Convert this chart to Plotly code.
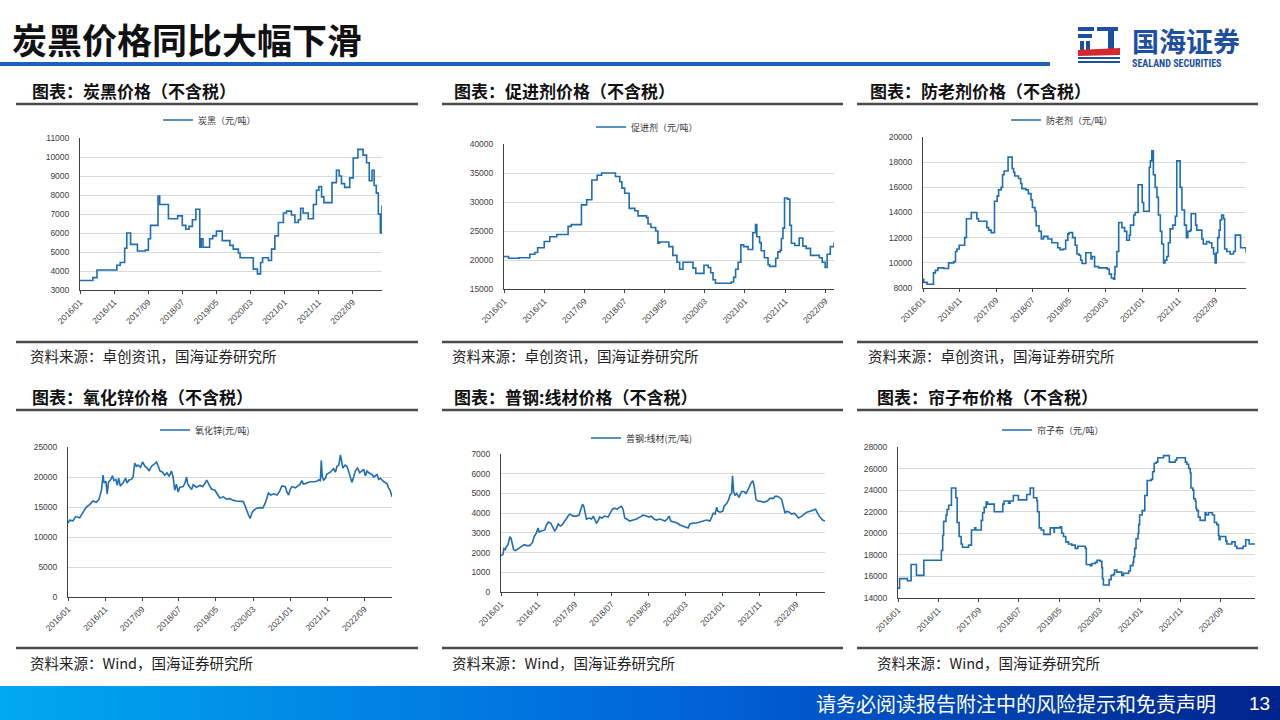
import plotly.graph_objects as go

# ---------------- data ----------------
cb_dates = ["2016-01-01","2016-04-25","2016-06-01","2016-11-25","2016-12-25","2017-02-03","2017-02-22","2017-03-28",
            "2017-05-28","2017-08-07","2017-09-03","2017-09-22","2017-11-28","2017-12-13","2018-03-01","2018-05-22",
            "2018-07-03","2018-08-03","2018-09-01","2018-10-01","2018-11-01","2018-12-06","2018-12-19","2019-01-04",
            "2019-03-04","2019-04-01","2019-05-04","2019-06-25","2019-09-01","2019-10-01","2019-11-16","2019-12-01",
            "2020-03-28","2020-05-04","2020-06-01","2020-06-19","2020-08-10","2020-09-07","2020-10-07","2020-11-07",
            "2020-12-22","2021-01-19","2021-03-04","2021-04-04","2021-05-04","2021-05-25","2021-06-16","2021-08-01",
            "2021-09-16","2021-10-13","2021-11-04","2021-11-28","2021-12-19","2022-03-01","2022-04-10","2022-05-04",
            "2022-05-25","2022-06-22","2022-08-07","2022-09-07","2022-10-19","2022-12-04","2023-01-04","2023-01-28",
            "2023-02-22","2023-03-13","2023-04-01","2023-04-19","2023-05-07","2023-05-22"]
cb_values = [3500,3650,4050,4300,4450,5200,6000,5400,
             5050,5100,5700,6400,7950,7500,6750,6900,
             6400,6200,6350,6700,7250,5250,5700,5250,
             5700,5850,6100,5600,5350,5150,4950,4700,
             4100,3850,4450,4700,4550,5150,5850,6550,
             7050,7150,6950,6550,6700,7300,7050,6750,
             7500,8250,8450,7900,7600,8650,9300,9000,
             8600,8400,8900,9950,10400,10100,9700,8750,
             9300,8500,8100,7000,6000,7450]

acc_dates = ["2016-01-01","2016-02-04","2016-04-25","2016-07-15","2016-08-22","2016-09-12","2016-11-01","2016-12-13",
             "2017-02-04","2017-05-01","2017-05-25","2017-08-10","2017-09-19","2017-10-28","2017-12-07","2018-01-10",
             "2018-04-25","2018-05-28","2018-06-13","2018-07-04","2018-08-07","2018-09-19","2018-10-13","2018-12-16",
             "2018-12-28","2019-01-19","2019-02-24","2019-03-13","2019-03-25","2019-06-04","2019-07-04","2019-08-04",
             "2019-08-25","2019-09-19","2019-12-04","2019-12-25","2020-02-25","2020-03-28","2020-04-16","2020-05-04",
             "2020-05-22","2020-09-19","2020-10-07","2020-10-22","2020-11-10","2020-12-01","2020-12-22","2021-01-25",
             "2021-03-01","2021-03-22","2021-04-01","2021-04-22","2021-05-04","2021-05-28","2021-06-25","2021-07-07",
             "2021-08-22","2021-09-07","2021-09-25","2021-10-04","2021-10-16","2021-10-28","2021-11-19","2021-12-07",
             "2021-12-19","2022-01-13","2022-02-16","2022-03-16","2022-04-10","2022-05-13","2022-07-19","2022-08-10",
             "2022-09-01","2022-09-16","2022-10-10","2022-11-07"]
acc_values = [20600,20300,20400,21000,21300,22100,23200,24000,
              24400,25800,26100,29500,30400,33800,34600,35000,
              34400,33500,32400,31500,28900,28500,27600,27300,
              26200,25600,25000,22900,23100,22300,20800,19600,
              18400,19600,18600,17700,19100,18700,17800,16600,
              16000,16200,17000,18400,19600,22600,22300,21800,
              24700,26100,24000,23000,21600,20400,19200,18900,
              20300,21400,21700,23700,25500,30700,30500,26000,
              22900,22500,23800,22400,22000,20800,20400,19600,
              18700,21000,22300,23000]

aa_dates = ["2016-01-01","2016-01-07","2016-02-04","2016-03-28","2016-04-13","2016-05-04","2016-06-22","2016-08-01",
            "2016-09-13","2016-09-28","2016-10-10","2016-10-28","2016-12-13","2016-12-28","2017-02-07","2017-03-25",
            "2017-04-07","2017-06-16","2017-07-01","2017-07-22","2017-08-19","2017-09-10","2017-09-22","2017-10-13",
            "2017-10-25","2017-11-07","2017-12-10","2018-01-13","2018-01-25","2018-02-04","2018-03-07","2018-03-25",
            "2018-04-04","2018-05-07","2018-05-28","2018-06-19","2018-07-01","2018-07-22","2018-08-01","2018-08-25",
            "2018-09-13","2018-10-01","2018-11-07","2018-12-10","2019-01-28","2019-02-16","2019-03-16","2019-04-04",
            "2019-04-22","2019-05-04","2019-06-01","2019-06-22","2019-07-07","2019-07-25","2019-08-07","2019-08-19",
            "2019-09-19","2019-11-01","2019-11-10","2019-12-01","2020-01-04","2020-03-16","2020-04-01","2020-04-19",
            "2020-05-07","2020-05-16","2020-05-19","2020-06-04","2020-06-19","2020-07-16","2020-08-07","2020-08-25",
            "2020-09-16","2020-09-25","2020-10-22","2020-11-04","2020-11-28","2021-01-01","2021-01-13","2021-03-01",
            "2021-03-10","2021-03-22","2021-04-04","2021-04-19","2021-05-04","2021-05-16","2021-06-01","2021-06-13",
            "2021-06-28","2021-07-10","2021-07-25","2021-08-07","2021-08-22","2021-09-13","2021-10-04","2021-10-16",
            "2021-11-13","2021-11-28","2021-12-19","2022-01-04","2022-01-16","2022-02-07","2022-02-13","2022-03-22",
            "2022-04-01","2022-05-13","2022-05-25","2022-06-22","2022-07-13","2022-08-04","2022-08-19","2022-09-01",
            "2022-09-10","2022-09-22","2022-10-04","2022-10-13","2022-10-25","2022-11-10","2022-11-19","2022-12-07",
            "2023-01-04","2023-02-01","2023-02-16","2023-04-01","2023-05-07","2023-05-16"]
aa_values = [8700,8450,8300,9200,9400,9600,9550,10000,
             10100,10900,11100,11400,12000,13500,14000,13500,
             13300,12800,12600,12400,14900,15300,15800,16000,
             17000,17300,18400,17500,17200,16900,16700,16300,
             15900,15800,15500,15000,14400,14100,12950,12500,
             11900,12100,11900,11600,11200,11050,11100,11800,
             12300,12400,12000,11400,10700,10600,10200,9950,
             10800,10300,10500,9700,9600,9500,9100,8800,
             8700,9100,9700,10900,13200,12800,12500,11800,
             12200,13000,13800,14000,16200,14800,14100,17600,
             18100,18900,17000,16000,15200,13800,12500,11500,
             10000,10200,10500,11600,12700,13000,13700,18100,
             16000,14200,13000,12000,12500,12600,13900,13000,
             12600,11900,11500,11700,11600,11200,10700,10000,
             10800,12000,12600,13400,13800,13500,11100,10900,
             10700,10900,12200,11200,11200,10800]

zno_dates = ["2016-01-01","2016-01-14","2016-02-11","2016-03-03","2016-04-06","2016-04-19","2016-05-16","2016-05-30",
             "2016-06-27","2016-07-24","2016-08-21","2016-09-12","2016-10-02","2016-10-15","2016-10-23","2016-11-07",
             "2016-11-18","2016-11-29","2016-12-15","2017-01-01","2017-01-12","2017-01-28","2017-02-09","2017-02-20",
             "2017-03-06","2017-03-28","2017-04-19","2017-04-30","2017-05-17","2017-06-05","2017-06-19","2017-07-02",
             "2017-07-16","2017-07-29","2017-08-18","2017-09-05","2017-09-24","2017-10-13","2017-10-29","2017-11-18",
             "2017-12-01","2017-12-15","2017-12-29","2018-01-12","2018-01-26","2018-02-16","2018-03-06","2018-03-25",
             "2018-04-11","2018-04-30","2018-05-14","2018-05-27","2018-06-10","2018-06-24","2018-07-08","2018-08-05",
             "2018-08-19","2018-09-02","2018-09-10","2018-09-29","2018-10-13","2018-10-26","2018-11-23","2018-12-20",
             "2019-01-12","2019-02-01","2019-02-14","2019-03-06","2019-03-25","2019-04-22","2019-05-11","2019-06-02",
             "2019-06-30","2019-07-27","2019-08-24","2019-09-21","2019-10-18","2019-11-15","2019-12-12","2019-12-26",
             "2020-01-09","2020-01-23","2020-02-06","2020-02-20","2020-03-04","2020-03-31","2020-04-28","2020-05-20",
             "2020-06-08","2020-06-22","2020-07-05","2020-07-24","2020-08-16","2020-09-13","2020-10-05","2020-10-24",
             "2020-11-21","2020-12-04","2020-12-18","2021-01-01","2021-01-15","2021-02-12","2021-02-26","2021-03-23",
             "2021-04-06","2021-04-20","2021-05-17","2021-06-14","2021-07-11","2021-08-08","2021-08-22","2021-09-05",
             "2021-09-13","2021-09-21","2021-10-02","2021-10-16","2021-10-29","2021-11-26","2021-12-23","2022-01-07",
             "2022-01-20","2022-02-04","2022-02-17","2022-02-25","2022-03-09","2022-03-28","2022-04-11","2022-04-25",
             "2022-05-09","2022-05-22","2022-06-06","2022-06-19","2022-07-08","2022-07-25","2022-08-13","2022-08-27",
             "2022-09-10","2022-09-24","2022-10-08","2022-11-05","2022-11-18","2022-12-15","2022-12-29","2023-01-12",
             "2023-02-09","2023-03-07","2023-03-20","2023-04-03","2023-04-17"]
zno_values = [12300,12800,12700,13400,13200,13600,14500,15000,
              15400,16000,15800,16300,17800,20300,19000,19300,
              17200,19200,19500,20200,19400,19600,18600,19800,
              18500,19000,19800,19000,19500,19600,20000,22300,
              21800,22000,21600,22500,21800,21500,21000,21800,
              22000,22300,22500,21800,21000,20800,20300,20700,
              20100,21000,20000,17800,18800,17500,18300,18400,
              19000,20000,18900,18300,17900,18700,18300,18600,
              18400,19000,19500,18700,18000,17800,17200,16500,
              16700,16300,16400,16100,16000,15900,15900,15200,
              14300,13700,13100,14000,14400,14800,14900,14800,
              15600,16600,17300,17000,17200,17000,17600,18500,
              18400,17500,17000,18000,18400,18200,18400,18800,
              19400,18800,19000,19200,19200,19300,19500,19400,
              22800,20000,19500,19800,20500,20800,21400,20800,
              21800,22000,23700,22800,21500,22000,21800,21000,
              20000,19100,20000,21000,21500,20700,21000,21300,
              20200,21000,20700,20400,20000,20400,19600,19800,
              19200,18900,18200,17700,16700]

steel_dates = ["2016-01-01","2016-01-17","2016-01-25","2016-02-06","2016-02-14","2016-02-28","2016-03-06","2016-03-14",
               "2016-03-25","2016-04-03","2016-04-14","2016-04-30","2016-05-19","2016-06-16","2016-07-14","2016-08-02",
               "2016-08-24","2016-09-16","2016-09-30","2016-10-19","2016-11-02","2016-11-10","2016-11-29","2016-12-27",
               "2017-01-10","2017-01-26","2017-02-14","2017-03-04","2017-03-18","2017-04-01","2017-04-17","2017-05-04",
               "2017-05-20","2017-06-09","2017-06-23","2017-07-12","2017-07-25","2017-08-17","2017-09-14","2017-10-06",
               "2017-10-19","2017-11-03","2017-11-14","2017-11-25","2017-12-06","2017-12-28","2018-01-17","2018-01-31",
               "2018-02-14","2018-02-26","2018-03-11","2018-03-25","2018-04-13","2018-05-05","2018-06-02","2018-06-21",
               "2018-07-08","2018-07-27","2018-08-16","2018-09-07","2018-09-21","2018-10-04","2018-10-18","2018-11-02",
               "2018-11-29","2018-12-26","2019-01-23","2019-02-19","2019-03-17","2019-04-14","2019-05-06","2019-05-25",
               "2019-06-17","2019-07-06","2019-08-03","2019-08-25","2019-09-14","2019-10-03","2019-10-19","2019-11-02",
               "2019-11-22","2019-12-24","2020-01-16","2020-02-13","2020-03-10","2020-03-24","2020-04-07","2020-05-05",
               "2020-06-02","2020-06-29","2020-07-26","2020-08-23","2020-09-20","2020-10-04","2020-10-18","2020-11-01",
               "2020-11-15","2020-11-23","2020-12-12","2021-01-04","2021-01-15","2021-02-06","2021-02-22","2021-03-03",
               "2021-03-17","2021-03-25","2021-04-03","2021-04-14","2021-04-28","2021-05-17","2021-06-08","2021-06-27",
               "2021-07-14","2021-08-02","2021-08-22","2021-09-08","2021-09-19","2021-10-05","2021-10-24","2021-11-13",
               "2021-12-05","2022-01-02","2022-01-29","2022-02-26","2022-03-10","2022-03-29","2022-04-15","2022-05-04",
               "2022-05-18","2022-06-01","2022-06-15","2022-07-06","2022-07-25","2022-08-14","2022-09-01","2022-09-20",
               "2022-10-17","2022-11-06","2022-11-28","2022-12-25","2023-01-16","2023-02-08","2023-02-24","2023-03-16",
               "2023-04-08","2023-04-27"]
steel_values = [1850,1900,2200,2150,2300,2400,2600,2800,
                2700,2400,2150,2100,2200,2300,2400,2350,
                2350,2500,2800,3000,3250,3050,3100,3150,
                3400,3550,3500,3300,3100,3200,3450,3350,
                3400,3600,3700,3900,3950,3850,3850,3900,
                4200,4450,4350,4000,3700,3750,3700,3850,
                3700,3500,3600,3800,3750,3850,3800,4000,
                4200,4250,4200,4300,4350,4200,3750,3700,
                3600,3650,3700,3800,3900,3850,3800,3850,
                3700,3650,3700,3650,3600,3700,3850,3600,
                3550,3500,3400,3350,3300,3250,3450,3500,
                3500,3550,3600,3650,3600,3800,4000,3950,
                4300,4100,4050,4100,4350,4500,4700,4900,
                5000,5900,5100,4900,5000,4800,5100,5100,
                5000,5200,5500,5650,5400,4700,4600,4600,
                4550,4600,4750,4750,4850,4850,4800,4700,
                4300,4000,4100,4050,3950,4000,3900,3750,
                3850,3950,4050,4100,4150,4200,4000,3800,
                3650,3600]

cord_dates = ["2016-01-01","2016-01-13","2016-03-12","2016-04-09","2016-05-19","2016-07-14","2016-11-23","2016-12-03",
              "2016-12-10","2016-12-28","2017-01-05","2017-01-17","2017-02-07","2017-03-12","2017-03-22","2017-04-06",
              "2017-04-21","2017-05-01","2017-06-16","2017-07-08","2017-08-01","2017-08-10","2017-09-20","2017-09-30",
              "2017-10-12","2017-10-27","2017-11-07","2017-12-27","2018-03-01","2018-03-11","2018-04-13","2018-04-25",
              "2018-05-20","2018-06-27","2018-08-29","2018-09-24","2018-10-19","2018-11-13","2018-11-18","2018-12-01",
              "2018-12-16","2019-01-04","2019-02-22","2019-03-23","2019-03-25","2019-05-07","2019-05-19","2019-06-02",
              "2019-06-19","2019-07-09","2019-08-04","2019-08-29","2019-09-18","2019-11-13","2019-11-21","2019-12-20",
              "2020-01-02","2020-01-28","2020-02-10","2020-03-04","2020-03-17","2020-03-22","2020-03-29","2020-05-11",
              "2020-05-26","2020-06-13","2020-06-21","2020-07-08","2020-08-15","2020-08-28","2020-10-05","2020-10-18",
              "2020-11-07","2020-11-12","2020-11-20","2020-11-30","2020-12-15","2020-12-20","2020-12-27","2021-01-15",
              "2021-02-04","2021-02-22","2021-03-24","2021-04-04","2021-04-16","2021-05-01","2021-05-13","2021-06-25",
              "2021-08-08","2021-09-22","2021-10-04","2021-12-07","2021-12-19","2022-01-01","2022-01-13","2022-01-18",
              "2022-02-01","2022-02-08","2022-02-20","2022-02-25","2022-03-03","2022-03-15","2022-03-28","2022-05-05",
              "2022-05-12","2022-05-30","2022-06-29","2022-07-14","2022-08-01","2022-08-14","2022-08-19","2022-08-26",
              "2022-10-08","2022-10-16","2022-11-23","2022-12-17","2022-12-30","2023-02-15","2023-03-07","2023-04-02",
              "2023-05-16"]
cord_values = [14900,15800,15600,17100,16100,17500,18400,19800,
               21100,21700,22200,22600,24200,23300,21000,19700,
               19000,18700,18900,20300,20500,20300,21200,21900,
               22400,22900,22700,22000,22700,23000,22800,23000,
               23500,23100,23600,24200,23300,23000,22000,20500,
               20300,19900,20500,20100,20500,20600,20000,19700,
               19200,19000,18900,18600,18800,18600,17100,17000,
               17200,17300,17500,17400,16800,15800,15200,15700,
               16100,16200,16600,16400,16100,16300,16500,17000,
               17300,17800,18600,19500,20000,20800,21700,22100,
               23500,24900,25000,25700,26500,26600,27000,27200,
               26600,26800,27000,26600,26400,26000,25600,24200,
               24000,23200,23000,22300,22100,21500,21200,21900,
               21700,21900,21700,21000,20800,19800,19400,19700,
               19300,19000,19200,18800,18600,18800,19400,19000,
               19000]

series_names = ["炭黑（元/吨）", "促进剂（元/吨）", "防老剂（元/吨）",
                "氧化锌(元/吨)", "普钢:线材(元/吨)", "帘子布（元/吨）"]
series_dates = [cb_dates, acc_dates, aa_dates, zno_dates, steel_dates, cord_dates]
series_values = [cb_values, acc_values, aa_values, zno_values, steel_values, cord_values]
series_shapes = ["hv", "hv", "hv", "linear", "linear", "hv"]
y_ranges = [(3000, 11000), (15000, 40000), (8000, 20000), (0, 25000), (0, 7000), (14000, 28000)]
y_dticks = [1000, 5000, 2000, 5000, 1000, 2000]
x_ends = ["2023-05-22", "2022-11-07", "2023-05-16", "2023-04-17", "2023-04-27", "2023-05-16"]

panel_titles = ["图表：炭黑价格（不含税）", "图表：促进剂价格（不含税）", "图表：防老剂价格（不含税）",
                "图表：氧化锌价格（不含税）", "图表：普钢:线材价格（不含税）", "图表：帘子布价格（不含税）"]
panel_sources = ["资料来源：卓创资讯，国海证券研究所"] * 3 + ["资料来源：Wind，国海证券研究所"] * 3
page_title = "炭黑价格同比大幅下滑"
footer_text = "请务必阅读报告附注中的风险提示和免责声明"
page_number = "13"

# ---------------- layout geometry (pixels) ----------------
W, H = 1280, 720
plot_boxes = [(80, 382, 138, 290), (504, 834, 144, 289), (923, 1246, 137, 288),
              (68, 392, 447, 597), (501, 825, 454, 592), (898, 1255, 447, 598)]
legend_pos = [(158, 120), (591, 127), (1006, 120), (155, 430), (586, 438), (997, 430)]
col_spans = [(16, 418), (442, 843), (857, 1258)]
title_x = [30, 452, 868, 30, 452, 875]
source_x = [28, 450, 866, 28, 450, 875]

CJK = "Noto Sans CJK SC"
LINE_COLOR = "#1f6db3"

def px(x):
    return x / W

def py(y):
    return 1 - y / H

fig = go.Figure()
layout = dict(width=W, height=H, margin=dict(l=0, r=0, t=0, b=0, pad=0, autoexpand=False),
              paper_bgcolor="white", plot_bgcolor="white", showlegend=True)

for i in range(6):
    n = "" if i == 0 else str(i + 1)
    x0, x1, y0, y1 = plot_boxes[i]
    fig.add_trace(go.Scatter(x=series_dates[i], y=series_values[i], mode="lines",
                             name=series_names[i], line=dict(color=LINE_COLOR, width=1.6, shape=series_shapes[i]),
                             xaxis="x" + n, yaxis="y" + n, legend="legend" + n, showlegend=True,
                             hoverinfo="skip"))
    layout["xaxis" + n] = dict(domain=[px(x0), px(x1)], anchor="y" + n, type="date",
                               range=["2016-01-01", x_ends[i]], tick0="2016-01-01", dtick="M10",
                               tickformat="%Y/%m", tickangle=-45, showgrid=False,
                               showline=True, linecolor="#404040", linewidth=1,
                               ticks="outside", ticklen=3, tickcolor="#404040", automargin=False,
                               tickfont=dict(family="Liberation Sans, Arial", size=8.5, color="#404040"),
                               fixedrange=True)
    layout["yaxis" + n] = dict(domain=[py(y1), py(y0)], anchor="x" + n,
                               range=list(y_ranges[i]), dtick=y_dticks[i], tick0=0, tickformat="d",
                               showgrid=True, gridcolor="#d9d9d9", gridwidth=1,
                               showline=True, linecolor="#404040", linewidth=1, automargin=False,
                               zeroline=False, ticks="", ticklabelstandoff=8,
                               tickfont=dict(family="Liberation Sans, Arial", size=8.5, color="#404040"),
                               fixedrange=True)
    lx, ly = legend_pos[i]
    layout["legend" + n] = dict(x=px(lx), y=py(ly), xanchor="left", yanchor="middle",
                                bgcolor="rgba(0,0,0,0)", borderwidth=0, itemwidth=30,
                                font=dict(family=CJK, size=9, color="#333333"))

shapes = []
annotations = []

# title + blue rule
annotations.append(dict(text="<b>" + page_title + "</b>", x=px(10), y=py(38), xref="paper", yref="paper",
                        xanchor="left", yanchor="middle", showarrow=False,
                        font=dict(family=CJK, size=35, color="#111111")))
shapes.append(dict(type="rect", xref="paper", yref="paper", x0=0, x1=px(1050), y0=py(66), y1=py(62),
                   fillcolor="#1f5fc0", line=dict(width=0)))

# logo
logo_blue = "#1d4fa3"
logo_rects = [(1078, 1094, 27, 31), (1078, 1092, 34, 38), (1080, 1084, 41, 50), (1086, 1090, 41, 50),
              (1097, 1118, 27, 31), (1108, 1114, 31, 50), (1078, 1120, 57, 59), (1078, 1120, 61, 63)]
for (a, b, c, d) in logo_rects:
    shapes.append(dict(type="rect", xref="paper", yref="paper", x0=px(a), x1=px(b), y0=py(d), y1=py(c),
                       fillcolor=logo_blue, line=dict(width=0)))
shapes.append(dict(type="path", xref="paper", yref="paper",
                   path="M %f %f L %f %f L %f %f L %f %f Z" % (px(1078), py(50), px(1120), py(48), px(1120), py(55), px(1078), py(56)),
                   fillcolor="#d9262b", line=dict(width=0)))
annotations.append(dict(text="<b>国海证券</b>", x=px(1130), y=py(40), xref="paper", yref="paper",
                        xanchor="left", yanchor="middle", showarrow=False,
                        font=dict(family=CJK, size=27, color=logo_blue)))
annotations.append(dict(text="<b>SEALAND SECURITIES</b>", x=px(1130), y=py(63), xref="paper", yref="paper",
                        xanchor="left", yanchor="middle", showarrow=False,
                        font=dict(family="Roboto Condensed, Roboto, Liberation Sans Narrow, Arial", size=10, color=logo_blue)))

# panel headers, rules, sources
rows_y = [(90, 104, 342, 355), (396, 410, 648, 662)]
for i in range(6):
    r, c = divmod(i, 3)
    hy, hl, sl, sy = rows_y[r]
    annotations.append(dict(text="<b>" + panel_titles[i] + "</b>", x=px(title_x[i]), y=py(hy),
                            xref="paper", yref="paper", xanchor="left", yanchor="middle", showarrow=False,
                            font=dict(family=CJK, size=17, color="#111111")))
    annotations.append(dict(text=panel_sources[i], x=px(source_x[i]), y=py(sy),
                            xref="paper", yref="paper", xanchor="left", yanchor="middle", showarrow=False,
                            font=dict(family=CJK, size=14.5, color="#222222")))
    a, b = col_spans[c]
    for yy in (hl, sl):
        shapes.append(dict(type="line", xref="paper", yref="paper", x0=px(a), x1=px(b), y0=py(yy), y1=py(yy),
                           line=dict(color="#4a4a4a", width=2.5)))

# footer gradient bar
stops = [(0.0, (0, 168, 240)), (0.55, (0, 98, 216)), (1.0, (0, 35, 138))]

def grad(t):
    for k in range(len(stops) - 1):
        t0, c0 = stops[k]
        t1, c1 = stops[k + 1]
        if t <= t1:
            f = (t - t0) / (t1 - t0)
            return "rgb(%d,%d,%d)" % tuple(round(c0[j] + (c1[j] - c0[j]) * f) for j in range(3))
    return "rgb(%d,%d,%d)" % stops[-1][1]

nslices = 128
for k in range(nslices):
    xa = k * W / nslices
    xb = (k + 1) * W / nslices + 0.6
    shapes.append(dict(type="rect", xref="paper", yref="paper", x0=px(xa), x1=min(1, px(xb)), y0=0, y1=py(686),
                       fillcolor=grad((k + 0.5) / nslices), line=dict(width=0), layer="below"))
annotations.append(dict(text=footer_text, x=px(1218), y=py(703), xref="paper", yref="paper",
                        xanchor="right", yanchor="middle", showarrow=False,
                        font=dict(family=CJK, size=20, color="white")))
annotations.append(dict(text=page_number, x=px(1259), y=py(703), xref="paper", yref="paper",
                        xanchor="center", yanchor="middle", showarrow=False,
                        font=dict(family="Liberation Sans, Arial", size=19, color="white")))

layout["shapes"] = shapes
layout["annotations"] = annotations
fig.update_layout(**layout)
fig.write_html("out.html", config={"displayModeBar": False},
               post_script="document.body.style.margin='0';document.body.style.overflow='hidden';")
